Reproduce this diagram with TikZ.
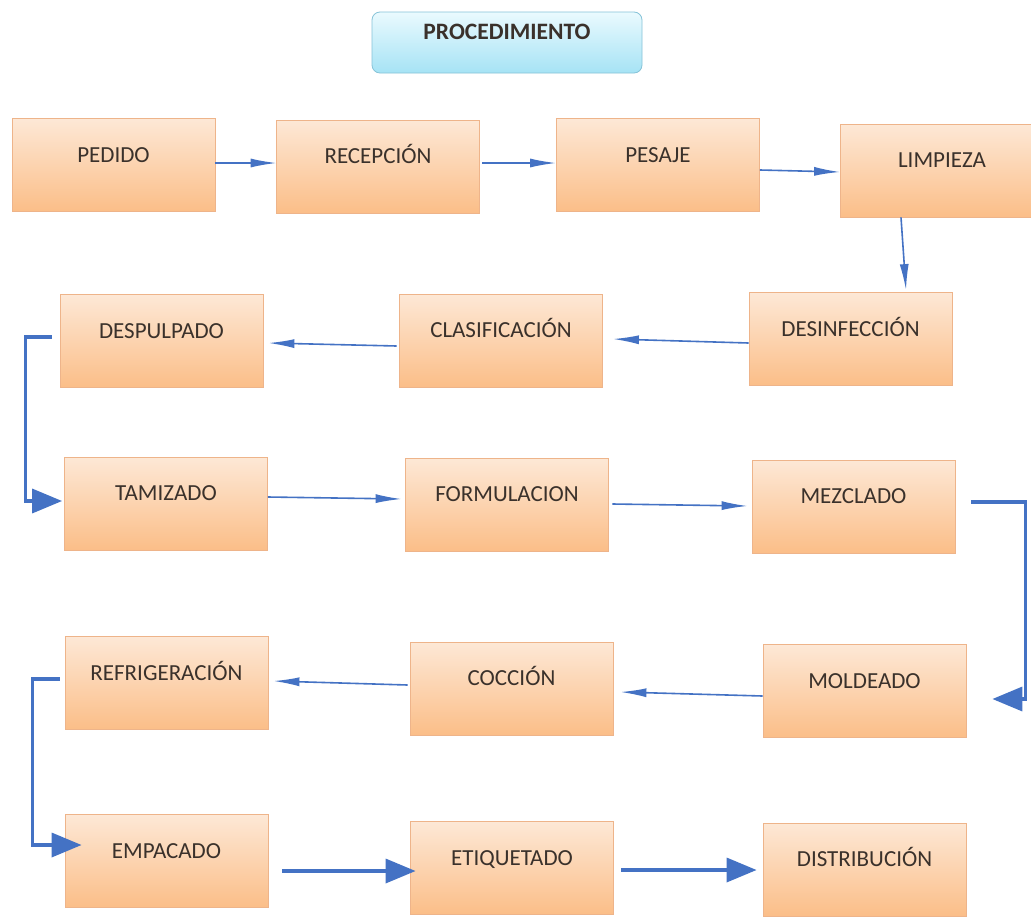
\documentclass[tikz,border=0pt]{standalone}
\usepackage{fontspec}
\setmainfont{Carlito}
\usetikzlibrary{arrows.meta}
\definecolor{boxtop}{HTML}{FDE8D6}
\definecolor{boxbot}{HTML}{FBBE88}
\definecolor{boxline}{HTML}{EEB48A}
\definecolor{tittop}{HTML}{EAFAFE}
\definecolor{titbot}{HTML}{A6E3F5}
\definecolor{titline}{HTML}{86C3D8}
\definecolor{arrblue}{HTML}{4472C4}
\definecolor{txt}{HTML}{3A312B}
\newcommand\boxtext[1]{\raisebox{3pt}[0pt][0pt]{#1}}
\begin{document}
\begin{tikzpicture}[x=1pt,y=-1pt,
  procbox/.style={draw=boxline, line width=0.8pt, top color=boxtop, bottom color=boxbot,
    minimum width=203pt, minimum height=93pt, inner sep=0pt,
    font=\fontsize{23}{26}\selectfont, text=txt},
  titlebox/.style={draw=titline, line width=0.8pt, top color=tittop, bottom color=titbot,
    rounded corners=8pt, minimum width=270pt, minimum height=61pt, inner sep=0pt,
    font=\bfseries\fontsize{23.5}{26}\selectfont, text=txt},
  thinarrow/.style={draw=arrblue, line width=1.6pt, -{Latex[length=26pt,width=9pt]}},
  thickarrow/.style={draw=arrblue, line width=3.5pt, -{Triangle[length=30pt,width=24pt]}}]
\useasboundingbox (0,0) rectangle (1031,916);
\fill[white] (0,0) rectangle (1031,916);

\node[titlebox] (titulo) at (507,42.5) {\boxtext{PROCEDIMIENTO}};

\node[procbox] (pedido)        at (113.5,165)   {\boxtext{PEDIDO}};
\node[procbox] (recepcion)     at (378,166.5)   {\boxtext{RECEPCIÓN}};
\node[procbox] (pesaje)        at (658,165)     {\boxtext{PESAJE}};
\node[procbox] (limpieza)      at (942,170.5)   {\boxtext{LIMPIEZA}};
\node[procbox] (desinfeccion)  at (850.5,339)   {\boxtext{DESINFECCIÓN}};
\node[procbox] (clasificacion) at (501,340.5)   {\boxtext{CLASIFICACIÓN}};
\node[procbox] (despulpado)    at (161.5,341)   {\boxtext{DESPULPADO}};
\node[procbox] (tamizado)      at (166,503.5)   {\boxtext{TAMIZADO}};
\node[procbox] (formulacion)   at (507,504.5)   {\boxtext{FORMULACION}};
\node[procbox] (mezclado)      at (853.5,506.5) {\boxtext{MEZCLADO}};
\node[procbox] (moldeado)      at (864.5,691)   {\boxtext{MOLDEADO}};
\node[procbox] (coccion)       at (511.5,688.5) {\boxtext{COCCIÓN}};
\node[procbox] (refrigeracion) at (166.5,683)   {\boxtext{REFRIGERACIÓN}};
\node[procbox] (empacado)      at (166.5,861)   {\boxtext{EMPACADO}};
\node[procbox] (etiquetado)    at (512,868)     {\boxtext{ETIQUETADO}};
\node[procbox] (distribucion)  at (864.5,869.5) {\boxtext{DISTRIBUCIÓN}};

% thin arrows
\draw[thinarrow] ([yshift=2pt]pedido.east) -- ([xshift=0.5pt,yshift=3.5pt]recepcion.west);
\draw[thinarrow] ([xshift=2.5pt,yshift=3.5pt]recepcion.east) -- ([yshift=2pt]pesaje.west);
\draw[thinarrow] ([yshift=-5pt]pesaje.east) -- ([yshift=-1.5pt]limpieza.west);
\draw[thinarrow] ([xshift=-41pt]limpieza.south) -- ([xshift=55.5pt,yshift=2pt]desinfeccion.north);
\draw[thinarrow] ([yshift=-4pt]desinfeccion.west) -- ([xshift=10pt,yshift=1.5pt]clasificacion.east);
\draw[thinarrow] ([xshift=-2.5pt,yshift=-5.5pt]clasificacion.west) -- ([xshift=5pt,yshift=-2pt]despulpado.east);
\draw[thinarrow] ([yshift=6.5pt]tamizado.east) -- ([xshift=-3.5pt,yshift=5.5pt]formulacion.west);
\draw[thinarrow] ([xshift=3.5pt,yshift=0.5pt]formulacion.east) -- ([xshift=-4pt,yshift=0.5pt]mezclado.west);
\draw[thinarrow] ([yshift=-5pt]moldeado.west) -- ([xshift=7pt,yshift=-3.5pt]coccion.east);
\draw[thinarrow] ([xshift=-2pt,yshift=3.5pt]coccion.west) -- ([xshift=5pt,yshift=2pt]refrigeracion.east);

% elbow arrows
\draw[thickarrow] ([xshift=-8pt,yshift=4pt]despulpado.west) -- ++(-26,0) |- ([xshift=-2pt,yshift=2.5pt]tamizado.west);
\draw[thickarrow] ([xshift=16pt,yshift=4.5pt]mezclado.east) -- ++(54,0) |- ([xshift=26pt,yshift=-8pt]moldeado.east);
\draw[thickarrow] ([xshift=-5pt,yshift=4pt]refrigeracion.west) -- ++(-27,0) |- ([xshift=17pt,yshift=16pt]empacado.west);

% thick straight arrows
\draw[thickarrow] ([xshift=14pt,yshift=-10pt]empacado.east) -- ([xshift=5.5pt,yshift=-3pt]etiquetado.west);
\draw[thickarrow] ([xshift=7.5pt,yshift=-2pt]etiquetado.east) -- ([xshift=-6pt,yshift=-0.5pt]distribucion.west);
\end{tikzpicture}
\end{document}
